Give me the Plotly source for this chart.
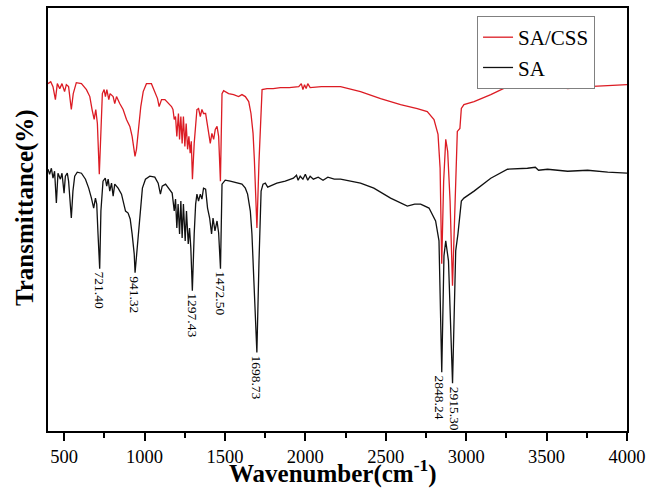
import plotly.graph_objects as go

# ---- data (wavenumber in cm-1, relative transmittance) ----
# values are relative heights above the x axis (arbitrary units, no y scale shown)
sacss_wn = [400, 417, 431, 446, 458, 473, 487, 503, 514, 528, 545, 557, 576, 608, 639, 660, 674, 687, 697, 707,
            719, 729, 738, 749, 757, 766, 778, 786, 805, 815, 826, 846, 867, 888, 909, 923, 941, 950, 960, 977,
            992, 1012, 1043, 1064, 1081, 1091, 1106, 1127, 1148, 1168, 1177, 1185, 1193, 1201, 1211, 1218, 1226,
            1234, 1242, 1251, 1259, 1268, 1276, 1284, 1291, 1298, 1309, 1318, 1326, 1336, 1347, 1357, 1367, 1380,
            1398, 1409, 1419, 1430, 1440, 1451, 1461, 1472, 1482, 1492, 1523, 1554, 1585, 1606, 1627, 1648, 1662,
            1675, 1683, 1699, 1712, 1722, 1731, 1762, 1800, 1845, 1900, 1959, 1975, 1985, 1995, 2005, 2015, 2030,
            2100, 2219, 2343, 2468, 2592, 2696, 2758, 2800, 2825, 2838, 2848, 2860, 2873, 2885, 2900, 2915, 2932,
            2945, 2961, 2970, 2986, 3049, 3153, 3257, 3381, 3506, 3631, 3755, 3880, 4000]
sacss_py = [82, 80, 85, 98, 82, 87, 82, 90, 83, 85, 108, 92, 81, 82, 88, 95, 108, 118, 108, 122,
            173, 125, 92, 88, 95, 88, 98, 92, 95, 102, 95, 102, 108, 118, 125, 135, 155, 148, 132, 105,
            90, 82, 82, 90, 97, 105, 98, 98, 102, 105, 108, 118, 115, 135, 112, 138, 115,
            142, 115, 145, 122, 148, 135, 152, 140, 178, 142, 122, 108, 107, 115, 108, 112, 112,
            128, 142, 132, 138, 128, 125, 135, 180, 92, 89, 92, 93, 95, 93, 95, 100, 112,
            132, 158, 227, 160, 110, 88, 87, 87, 86, 86, 85, 82, 88, 83, 87, 82, 86,
            85, 85, 90, 97, 103, 107, 110, 118, 133, 167, 263, 180, 138, 150, 200, 285, 190,
            130, 127, 107, 103, 100, 93, 85, 82, 83, 87, 85, 84, 83]

sa_wn = [400, 410, 421, 431, 441, 452, 462, 477, 487, 500, 508, 520, 528, 537, 545, 555, 566, 582, 608, 633,
         653, 670, 684, 695, 703, 711, 721.40, 729, 742, 756, 765, 774, 784, 795, 805, 815, 836, 857, 882, 898,
         911, 923, 936, 941.32, 957, 971, 987, 1006, 1033, 1064, 1085, 1099, 1110, 1131, 1151, 1172, 1185, 1193,
         1201, 1209, 1218, 1226, 1234, 1242, 1253, 1261, 1272, 1280, 1288, 1297.43, 1309, 1318, 1326, 1336, 1347,
         1357, 1367, 1380, 1392, 1405, 1417, 1426, 1438, 1451, 1461, 1472.50, 1482, 1502, 1533, 1575, 1606, 1627,
         1641, 1658, 1668, 1680, 1698.73, 1712, 1725, 1737, 1751, 1766, 1781, 1803, 1823, 1875, 1926, 1945, 1955,
         1968, 1985, 2000, 2015, 2030, 2050, 2080, 2110, 2140, 2180, 2219, 2343, 2426, 2530, 2634, 2680, 2717,
         2769, 2810, 2831, 2848.24, 2862, 2873, 2890, 2915.30, 2935, 2949, 2960, 2970, 2986, 3049, 3153, 3257,
         3381, 3430, 3450, 3506, 3631, 3755, 3880, 4000]
sa_py = [168, 173, 167, 177, 170, 202, 172, 178, 172, 192, 175, 172, 180, 197, 217, 190, 175, 171, 172, 178,
         187, 197, 207, 197, 203, 233, 268, 210, 180, 177, 185, 178, 190, 182, 195, 183, 187, 193, 210, 212,
         218, 233, 253, 272, 243, 210, 187, 178, 175, 176, 182, 193, 185, 183, 187, 192, 210, 198,
         227, 203, 233, 200, 237, 203, 240, 210, 243, 227, 247, 290, 233, 203, 193, 200, 193,
         198, 187, 188, 207, 217, 233, 217, 230, 220, 232, 268, 183, 179, 180, 182, 183, 187,
         193, 210, 233, 280, 352, 260, 190, 183, 182, 186, 185, 183, 182, 180, 177, 174, 179,
         175, 178, 173, 179, 175, 178, 176, 179, 176, 178, 178, 182, 187, 197, 205, 203, 203,
         207, 220, 240, 372, 255, 240, 260, 383, 250, 233, 215, 200, 197, 190, 177, 168,
         167, 166, 169, 168, 170, 169, 171, 172]

# convert picture depth into relative transmittance (height above the axis)
sacss_t = [431 - v for v in sacss_py]
sa_t = [431 - v for v in sa_py]

peak_wn = [721.40, 941.32, 1297.43, 1472.50, 1698.73, 2848.24, 2915.30]
peak_labels = ["721.40", "941.32", "1297.43", "1472.50", "1698.73", "2848.24", "2915.30"]
peak_shift = [0, 0, 0, 0, 0, -2, 2]
peak_t = [sa_t[sa_wn.index(w)] for w in peak_wn]

x_ticks = [500, 1000, 1500, 2000, 2500, 3000, 3500, 4000]

FONT = "Liberation Serif, Times New Roman, serif"

fig = go.Figure()
fig.add_trace(go.Scatter(x=sa_wn, y=sa_t, mode="lines", name="SA",
                         line=dict(color="#111111", width=1.3)))
fig.add_trace(go.Scatter(x=sacss_wn, y=sacss_t, mode="lines", name="SA/CSS",
                         line=dict(color="#dc1c24", width=1.3)))

for w, t, lab, sh in zip(peak_wn, peak_t, peak_labels, peak_shift):
    fig.add_annotation(x=w, y=t, text=lab, textangle=90, showarrow=False,
                       xanchor="center", yanchor="top", yshift=-1, xshift=sh,
                       font=dict(family=FONT, size=13.5, color="black"))

# axis titles placed as in the reference
fig.add_annotation(xref="paper", yref="paper", x=0.492, y=-0.0965,
                   text="<b>Wavenumber(cm<sup>-1</sup>)</b>", showarrow=False,
                   xanchor="center", yanchor="middle",
                   font=dict(family=FONT, size=25, color="black"))
fig.add_annotation(xref="paper", yref="paper", x=-0.0397, y=0.527,
                   text="<b>Transmittance(%)</b>", showarrow=False, textangle=-90,
                   xanchor="center", yanchor="middle",
                   font=dict(family=FONT, size=25, color="black"))

fig.update_layout(
    width=665, height=490,
    margin=dict(l=48, r=38, t=6, b=59),
    paper_bgcolor="white", plot_bgcolor="white",
    font=dict(family=FONT, color="black"),
    showlegend=True,
    legend=dict(x=0.741, y=0.981, xanchor="left", yanchor="top",
                traceorder="reversed", bordercolor="#808080", borderwidth=1,
                bgcolor="white", font=dict(family=FONT, size=21), tracegroupgap=0),
    xaxis=dict(range=[400, 4000], tickmode="array", tickvals=x_ticks,
               ticks="outside", ticklen=8, tickwidth=1.5, tickcolor="black",
               minor=dict(dtick=250, tick0=0, ticks="outside", ticklen=5, tickwidth=1.5, tickcolor="black"),
               showline=True, linewidth=1.8, linecolor="black", mirror=True,
               showgrid=False, zeroline=False,
               tickfont=dict(family=FONT, size=18.5)),
    yaxis=dict(range=[0, 425], showticklabels=False, ticks="",
               showline=True, linewidth=1.8, linecolor="black", mirror=True,
               showgrid=False, zeroline=False),
)

fig.write_html("out.html", config={"displayModeBar": False},
               post_script="document.body.style.margin='0';")
